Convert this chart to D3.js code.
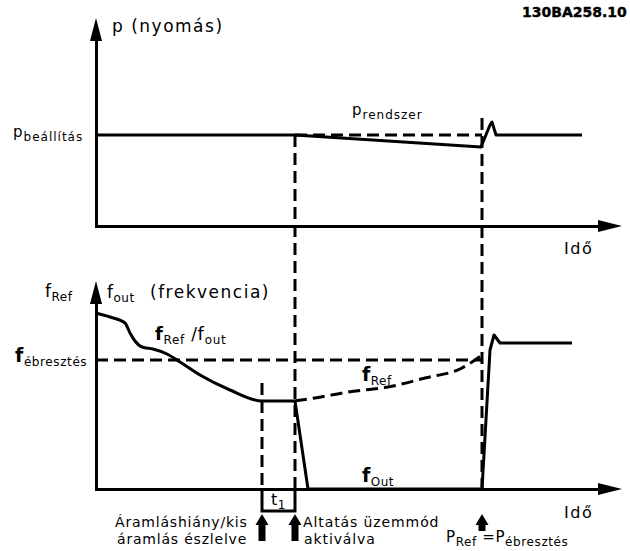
<!DOCTYPE html>
<html><head><meta charset="utf-8">
<script src="https://cdn.jsdelivr.net/npm/d3@7"></script>
<style>
html,body{margin:0;padding:0;background:#fff;}
svg{display:block;font-family:"DejaVu Sans",Verdana,sans-serif;}
</style></head><body>
<svg id="chart" width="630" height="551"></svg>
<script>
// ---- data (time in arbitrary units along the "Idő" axis) ----
const eventNames = ["flowLow", "sleep", "wake"];
const eventTimes = [33.2, 39.8, 77.2];

// system pressure p_rendszer
const pressureTime  = [0, 39.8, 77.0, 78.8, 79.2, 80.0, 97.2];
const pressureValue = [45.5, 45.5, 39.5, 50.5, 52, 45.5, 45.5];
const pressureSetpoint = 45.5;

// f_Ref / f_out while running (before sleep)
const runTime  = [0, 2.8, 5.8, 6.8, 7.8, 9.2, 11.4, 14.2, 16.8, 20.8, 26.8, 33.2, 39.8];
const runValue = [88, 86, 83, 78, 74, 71, 70, 67.5, 63.5, 57, 49.5, 44, 44];

// f_Ref during sleep (dashed)
const refTime  = [39.8, 43.8, 50.4, 58.4, 65.8, 73.2, 75.2, 77.8];
const refValue = [44, 45.5, 48.5, 51, 55.5, 60.5, 63.5, 68];

// f_out during sleep and after wake-up
const outTime  = [39.8, 42.4, 77.2, 78.8, 79.6, 80.8, 95.2];
const outValue = [44, 0, 0, 69.5, 77, 73, 73];

const wakeFreq = 64.5;

// ---- scales ----
const x  = d3.scaleLinear().domain([0, 105]).range([96, 621]);
const yP = d3.scaleLinear().domain([0, 104]).range([226, 18]);
const yF = d3.scaleLinear().domain([0, 104]).range([489, 281]);

const svg = d3.select("#chart");
const W = 3, DASH = "12,6";

// ---- axes ----
function axisX(y0) {
  const g = svg.append("g").attr("transform", `translate(0,${y0})`)
    .call(d3.axisBottom(d3.scaleLinear().domain([0, 1]).range([x(0), 602]))
      .tickValues([]).tickSizeOuter(0));
  g.select(".domain").attr("stroke", "#000").attr("stroke-width", W);
  svg.append("path").attr("d", `M${x.range()[1]+1},${y0} L598,${y0-6} L598,${y0+6} Z`).attr("fill", "#000");
}
function axisY(scale, top) {
  const g = svg.append("g").attr("transform", `translate(${x(0)},0)`)
    .call(d3.axisLeft(d3.scaleLinear().domain([0, 1]).range([scale.range()[0]+1.5, top + 18]))
      .tickValues([]).tickSizeOuter(0));
  g.select(".domain").attr("stroke", "#000").attr("stroke-width", W);
  svg.append("path").attr("d", `M${x(0)},${top} L${x(0)-6},${top+23} L${x(0)+6},${top+23} Z`).attr("fill", "#000");
}
axisY(yP, yP.range()[1]);
axisX(yP(0));
axisY(yF, yF.range()[1]);
axisX(yF(0));

// ---- reference lines ----
const tSleep = eventTimes[1], tWake = eventTimes[2], tFlow = eventTimes[0];
const dashed = (d) => svg.append("path").attr("d", d).attr("fill", "none")
  .attr("stroke", "#000").attr("stroke-width", W).attr("stroke-dasharray", DASH);

dashed(`M${x(tSleep)},${yP(pressureSetpoint)} H${x(tWake)}`);
dashed(`M${x(0)},${yF(wakeFreq)} H${x(tWake)}`);

const bracketY = 511;
dashed(`M${x(tSleep)},${yP(pressureSetpoint)} V${yF(0)}`);
dashed(`M${x(tFlow)},${yF(53)} V${yF(0)}`);
dashed(`M${x(tWake)},${yP(54)} V${yF(0)}`);

// ---- curves ----
const line = (ys) => d3.line().x(d => x(d[0])).y(d => ys(d[1]));
const solid = (d) => svg.append("path").attr("d", d).attr("fill", "none")
  .attr("stroke", "#000").attr("stroke-width", W).attr("stroke-linejoin", "round");

solid(line(yP)(d3.zip(pressureTime, pressureValue)));
solid(line(yF).curve(d3.curveMonotoneX)(d3.zip(runTime, runValue)));
dashed(line(yF).curve(d3.curveMonotoneX)(d3.zip(refTime, refValue)));
solid(line(yF)(d3.zip(outTime, outValue)));

// ---- t1 bracket ----
svg.append("path")
  .attr("d", `M${x(tFlow)},${yF(0)} V${bracketY} H${x(tSleep)} V${yF(0)}`)
  .attr("fill", "none").attr("stroke", "#000").attr("stroke-width", W);

// ---- event arrows ----
function eventArrow(t, y0, y1) {
  const cx = x(t);
  svg.append("rect").attr("x", cx - 3.5).attr("y", y0 + 7).attr("width", 7).attr("height", y1 - y0 - 7).attr("fill", "#000");
  svg.append("path").attr("d", `M${cx},${y0} L${cx-6.5},${y0+11} L${cx+6.5},${y0+11} Z`).attr("fill", "#000");
}
eventArrow(tFlow, 514, 541);
eventArrow(tSleep, 514, 541);
eventArrow(tWake, 514, 531);

// ---- text ----
function label(xp, yp, parts, opts = {}) {
  const t = svg.append("text").attr("x", xp).attr("y", yp)
    .attr("font-size", opts.size || 15).attr("fill", "#000");
  if (opts.weight) t.attr("font-weight", opts.weight);
  if (opts.ls) t.attr("letter-spacing", opts.ls);
  let shift = 0;
  parts.forEach(p => {
    const s = t.append("tspan").text(p.t);
    if (p.size) s.attr("font-size", p.size);
    if (p.weight) s.attr("font-weight", p.weight);
    const want = p.sub ? 4 : 0;
    if (want !== shift) { s.attr("dy", want - shift); shift = want; }
  });
  return t;
}

label(112, 32, [{t: "p (nyomás)"}], {size: 17, ls: 1.5});
label(13, 137, [{t: "p", size: 15}, {t: "beállítás", sub: true, size: 12}], {ls: 1});
label(352, 115, [{t: "p", size: 15}, {t: "rendszer", sub: true, size: 12}], {ls: 1});
label(564, 254, [{t: "Idő"}], {size: 16, ls: 1.5});
label(564, 518, [{t: "Idő"}], {size: 16, ls: 1.5});
label(522, 17, [{t: "130BA258.10"}], {size: 14, weight: "bold"})
  .attr("stroke", "#000").attr("stroke-width", 0.4);

label(45, 297, [{t: "f", size: 17}, {t: "Ref", sub: true, size: 12}], {ls: 0.5});
label(107, 298, [{t: "f", size: 17}, {t: "out", sub: true, size: 12}], {ls: 0.5});
label(150, 298, [{t: "(frekvencia)"}], {size: 17, ls: 1.5});
label(155, 340, [{t: "f", size: 18, weight: "bold"}, {t: "Ref", sub: true, size: 12},
                 {t: " /", size: 17}, {t: "f", size: 18}, {t: "out", sub: true, size: 12}], {ls: 0.7});
label(15, 362, [{t: "f", size: 19, weight: "bold"}, {t: "ébresztés", sub: true, size: 12}], {ls: 0.6});
label(362, 381, [{t: "f", size: 19, weight: "bold"}, {t: "Ref", sub: true, size: 12}], {ls: 0.5});
label(362, 482, [{t: "f", size: 19, weight: "bold"}, {t: "Out", sub: true, size: 12}], {ls: 0.5});
label(271, 505, [{t: "t", size: 16}, {t: "1", sub: true, size: 12}], {ls: 0.5});

label(115, 527, [{t: "Áramláshiány/kis"}], {size: 14, ls: 0.8});
label(117, 544, [{t: "áramlás észlelve"}], {size: 14, ls: 0.8});
label(303, 527, [{t: "Altatás üzemmód"}], {size: 14, ls: 0.9});
label(304, 544, [{t: "aktiválva"}], {size: 14, ls: 0.9});
label(446, 542, [{t: "P", size: 15}, {t: "Ref", sub: true, size: 12},
                 {t: " =", size: 15}, {t: "P", size: 15}, {t: "ébresztés", sub: true, size: 12}], {ls: 0.6});
</script>
</body></html>
